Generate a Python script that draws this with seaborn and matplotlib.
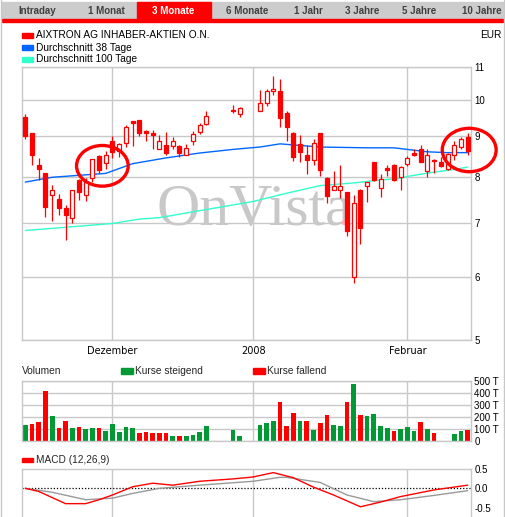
import numpy as np
import pandas as pd
import matplotlib
matplotlib.use("Agg")
import matplotlib.pyplot as plt
from matplotlib.patches import Rectangle, Ellipse
from matplotlib.lines import Line2D
from matplotlib.ticker import NullLocator
import seaborn as sns

W, H = 506, 517

# trading days as weekday index (0 = first weekday shown, holidays skipped)
day = list(range(0, 28)) + [31, 32] + list(range(35, 67))

opens = [9.52, 9.09, 8.30, 8.11, 7.59, 7.51, 7.33, 7.11, 7.93, 7.59, 7.98, 8.50, 8.33, 8.89,
         8.64, 8.82, 9.40, 9.43, 9.14, 9.10, 8.69, 8.78, 8.75, 8.76, 8.54, 8.89, 9.12, 9.33,
         9.71, 9.60,
         9.69, 9.90, 10.27, 10.27, 9.64, 9.09, 8.80, 8.52, 8.42, 9.09, 7.99, 7.72, 7.72, 7.66,
         6.00, 7.72, 7.80, 8.35, 7.75, 8.22, 8.30, 8.00, 8.31, 8.59, 8.68, 8.15, 8.42, 8.37,
         8.20, 8.52, 8.73, 8.98]
highs = [9.59, 9.09, 8.45, 8.11, 7.83, 7.62, 7.38, 7.72, 7.95, 7.99, 8.44, 8.53, 8.64, 9.02,
         8.84, 9.30, 9.41, 9.44, 9.16, 9.16, 9.03, 9.12, 8.98, 8.77, 8.81, 9.15, 9.36, 9.68,
         9.85, 9.81,
         10.29, 10.33, 10.73, 10.61, 9.69, 9.12, 9.03, 8.78, 8.93, 9.10, 8.00, 8.15, 8.28, 7.67,
         7.59, 7.73, 7.90, 8.36, 8.08, 8.28, 8.31, 8.26, 8.50, 8.67, 8.78, 8.67, 8.44, 8.47,
         8.59, 8.88, 8.98, 9.08]
lows = [8.93, 8.28, 7.93, 7.13, 7.06, 7.17, 6.68, 7.02, 7.49, 7.47, 7.88, 8.09, 8.19, 8.46,
        8.48, 8.74, 8.75, 9.02, 8.89, 8.69, 8.67, 8.54, 8.69, 8.49, 8.52, 8.79, 9.07, 9.31,
        9.63, 9.52,
        9.69, 9.82, 10.14, 9.25, 8.89, 8.39, 8.36, 8.07, 8.28, 8.04, 7.43, 7.70, 7.53, 6.75,
        5.90, 6.60, 7.45, 7.91, 7.55, 8.03, 7.92, 7.72, 8.26, 8.50, 8.35, 8.00, 8.11, 8.24,
        8.18, 8.41, 8.68, 8.52]
closes = [9.02, 8.53, 8.19, 7.34, 7.70, 7.33, 7.17, 7.70, 7.67, 7.89, 8.43, 8.17, 8.53, 8.61,
          8.80, 9.26, 9.37, 9.10, 9.08, 9.05, 8.89, 8.57, 8.89, 8.58, 8.71, 9.06, 9.31, 9.56,
          9.68, 9.78,
          9.92, 10.27, 10.33, 9.50, 9.25, 8.49, 8.61, 8.40, 8.83, 8.16, 7.58, 7.79, 7.81, 6.85,
          7.43, 6.91, 7.89, 7.93, 7.96, 8.18, 7.93, 8.25, 8.45, 8.53, 8.36, 8.54, 8.38, 8.26,
          8.55, 8.78, 8.93, 8.64]
prev_close = 8.90

# volume in thousand shares
volume = [130, 139, 156, 414, 206, 106, 164, 106, 114, 97, 106, 106, 81, 139, 72, 114, 106,
          64, 72, 64, 64, 64, 39, 39, 39, 47, 72, 122,
          89, 39,
          130, 147, 164, 322, 122, 231, 164, 164, 89, 147, 214, 130, 122, 322, 472, 214, 206,
          222, 122, 106, 81, 97, 114, 81, 156, 97, 64, np.nan, np.nan, 56, 81, 89]

# moving averages read at a few days
ma38_day = [0, 4, 12, 16, 21, 26, 31, 35, 38, 44, 51, 55, 57, 60, 63, 66]
ma38_val = [7.89, 8.00, 8.09, 8.32, 8.46, 8.58, 8.67, 8.73, 8.81, 8.73, 8.71, 8.71, 8.67,
            8.61, 8.59, 8.59]
ma100_day = [0, 13, 17, 20, 34, 39, 44, 49, 52, 56, 57, 61, 64, 66]
ma100_val = [6.86, 7.00, 7.09, 7.12, 7.46, 7.64, 7.81, 7.87, 7.92, 7.98, 8.02, 8.12, 8.18, 8.24]

# MACD (12,26,9)
macd_day = [0, 2, 6, 9, 11, 13, 16, 19, 22, 26, 31, 34, 37, 40, 43, 46, 50, 53, 56, 61, 66]
macd_val = [0.0, -0.08, -0.39, -0.39, -0.29, -0.17, 0.04, 0.13, 0.08, 0.18, 0.24, 0.29, 0.40,
            0.27, 0.03, -0.17, -0.47, -0.35, -0.21, -0.04, 0.08]
signal_day = [0, 4, 9, 13, 16, 20, 26, 34, 38, 39, 44, 48, 52, 56, 61, 66]
signal_val = [0.0, -0.10, -0.29, -0.25, -0.13, 0.0, 0.08, 0.18, 0.28, 0.28, 0.15, -0.17,
              -0.34, -0.29, -0.18, -0.06]

month_pos = [13, 34, 57]
month_lab = ["Dezember", "2008", "Februar"]
price_ticks = [5, 6, 7, 8, 9, 10, 11]
vol_ticks = [0, 100, 200, 300, 400, 500]
vol_labels = ["0", "100 T", "200 T", "300 T", "400 T", "500 T"]
macd_ticks = [-0.5, 0.0, 0.5]
macd_labels = ["-0.5", "0.0", "0.5"]
tabs = ["Intraday", "1 Monat", "3 Monate", "6 Monate", "1 Jahr", "3 Jahre", "5 Jahre", "10 Jahre"]

RED = "#ff0000"
GREEN = "#009933"
BLUE = "#0066ff"
CYAN = "#33ffcc"
GRID = "#c8c8c8"

sns.set_theme(style="white")
plt.rcParams["font.family"] = ["Liberation Sans", "DejaVu Sans"]

fig = plt.figure(figsize=(W / 100, H / 100), dpi=100)
fig.patch.set_facecolor("white")


def fx(px):
    return px / W


def fy(py):
    return 1 - py / H


ax = fig.add_axes([fx(22), fy(340), 449 / W, 273 / H])
axv = fig.add_axes([fx(22), fy(440.7), 449 / W, 60 / H])
axm = fig.add_axes([fx(22), 0, 449 / W, (H - 468.7) / H])

for a in (ax, axv, axm):
    a.set_xlim(-0.5, 66.5)
    a.set_axisbelow(True)
    for s in a.spines.values():
        s.set_color(GRID)
        s.set_linewidth(1)
    a.yaxis.tick_right()
    a.tick_params(length=0, labelsize=7, colors="black", pad=2.5)
    a.set_xlabel("")
    a.set_ylabel("")

# ---- price panel
ax.set_yscale("log")
ax.set_ylim(5, 11)
ax.set_yticks(price_ticks)
ax.set_yticklabels([str(t) for t in price_ticks])
ax.yaxis.set_minor_locator(NullLocator())
ax.set_xticks(month_pos)
ax.set_xticklabels(month_lab, family="DejaVu Sans", fontsize=7)
ax.tick_params(axis="x", pad=4)
ax.grid(True, color=GRID, lw=1)

# watermark
ax.text(0.30, 0.421, "OnVista", transform=ax.transAxes, fontsize=43,
        family="Liberation Serif", color="#c8c8c8", zorder=1)
ax.plot([0.718], [0.432], "o", transform=ax.transAxes, ms=3, color="#ffb0b0", zorder=1)

sns.lineplot(x=ma100_day, y=ma100_val, ax=ax, color=CYAN, lw=1.0, zorder=2)
sns.lineplot(x=ma38_day, y=ma38_val, ax=ax, color=BLUE, lw=1.0, zorder=2)

o = np.array(opens)
c = np.array(closes)
ax.vlines(day, lows, highs, color=RED, lw=0.9, zorder=3)
ax.bar(day, np.abs(c - o), bottom=np.minimum(o, c), width=0.6,
       color=np.where(c > o, "white", RED), edgecolor=RED, lw=0.9, zorder=4)

for cx, cy, w, h in [(0.179, 0.638, 0.115, 0.149), (0.996, 0.696, 0.120, 0.159)]:
    ax.add_patch(Ellipse((cx, cy), w, h, transform=ax.transAxes, fill=False,
                         ec=RED, lw=2.4, clip_on=False, zorder=10))
ax.set_xlim(-0.5, 66.5)

# ---- volume panel
prev = np.concatenate([[prev_close], c[:-1]])
vol_df = pd.DataFrame({"day": day, "vol": volume,
                       "dir": np.where(c >= prev, "steigend", "fallend")}).dropna()
sns.barplot(data=vol_df, x="day", y="vol", hue="dir", native_scale=True, dodge=False,
            palette={"steigend": GREEN, "fallend": RED}, width=0.7, errorbar=None,
            saturation=1, linewidth=0, legend=False, ax=axv)
axv.set_xlim(-0.5, 66.5)
axv.set_ylim(0, 500)
axv.set_yticks(vol_ticks)
axv.set_yticklabels(vol_labels)
axv.set_xticks(month_pos)
axv.set_xticklabels([])
axv.grid(True, color=GRID, lw=1)
axv.set_xlabel("")
axv.set_ylabel("")

# ---- MACD panel
axm.set_ylim(-0.73, 0.5)
axm.set_yticks(macd_ticks)
axm.set_yticklabels(macd_labels)
axm.set_xticks(month_pos)
axm.set_xticklabels([])
axm.grid(True, axis="x", color=GRID, lw=1)
axm.spines["bottom"].set_visible(False)
axm.axhline(0, color="black", lw=0.9, ls=(0, (1, 1.5)), zorder=2)
sns.lineplot(x=signal_day, y=signal_val, ax=axm, color="#999999", lw=1, zorder=3)
sns.lineplot(x=macd_day, y=macd_val, ax=axm, color=RED, lw=1, zorder=4)
axm.set_xlim(-0.5, 66.5)
axm.set_xlabel("")
axm.set_ylabel("")

# ---- header, legends, frame
fig.patches.append(Rectangle((fx(2), fy(19)), 501 / W, 17 / H, transform=fig.transFigure,
                             color="#cccccc", zorder=0))
fig.patches.append(Rectangle((fx(137), fy(19)), 74 / W, 17 / H, transform=fig.transFigure,
                             color=RED, zorder=1))
fig.patches.append(Rectangle((fx(2), fy(22)), 501 / W, 3 / H, transform=fig.transFigure,
                             color=RED, zorder=1))
tab_x = [37, 106, 173, 247, 308, 362, 419, 482]
for lab, tx in zip(tabs, tab_x):
    fig.text(fx(tx), fy(10.5), lab, ha="center", va="center", fontsize=7, fontweight="bold",
             color="white" if lab == "3 Monate" else "#404040")

legend_rows = [
    (35.5, RED, "AIXTRON AG INHABER-AKTIEN O.N."),
    (47.6, BLUE, "Durchschnitt 38 Tage"),
    (59.2, CYAN, "Durchschnitt 100 Tage"),
]
for ly, col, lab in legend_rows:
    fig.patches.append(Rectangle((fx(22), fy(ly + 2.3)), 10.7 / W, 4.6 / H,
                                 transform=fig.transFigure, color=col))
    fig.text(fx(36.5), fy(ly), lab, ha="left", va="center", fontsize=7.3, color="black")
fig.text(fx(501.5), fy(35.5), "EUR", ha="right", va="center", fontsize=7.3, color="black")

fig.text(fx(22), fy(371), "Volumen", ha="left", va="center", fontsize=7.3)
fig.patches.append(Rectangle((fx(121), fy(374.3)), 11.7 / W, 6 / H,
                             transform=fig.transFigure, color=GREEN))
fig.text(fx(135), fy(371), "Kurse steigend", ha="left", va="center", fontsize=7.3)
fig.patches.append(Rectangle((fx(253.3), fy(374.3)), 11.4 / W, 6 / H,
                             transform=fig.transFigure, color=RED))
fig.text(fx(267.3), fy(371), "Kurse fallend", ha="left", va="center", fontsize=7.3)

fig.patches.append(Rectangle((fx(22), fy(461.7)), 10.7 / W, 4 / H,
                             transform=fig.transFigure, color=RED))
fig.text(fx(36.5), fy(459.7), "MACD (12,26,9)", ha="left", va="center", fontsize=7.3)

fig.lines.append(Line2D([fx(1.5), fx(1.5)], [0, 1], transform=fig.transFigure,
                        color=GRID, lw=1))
fig.lines.append(Line2D([fx(504.5), fx(504.5)], [0, 1], transform=fig.transFigure,
                        color=GRID, lw=1))

fig.savefig("out.png", dpi=100)
